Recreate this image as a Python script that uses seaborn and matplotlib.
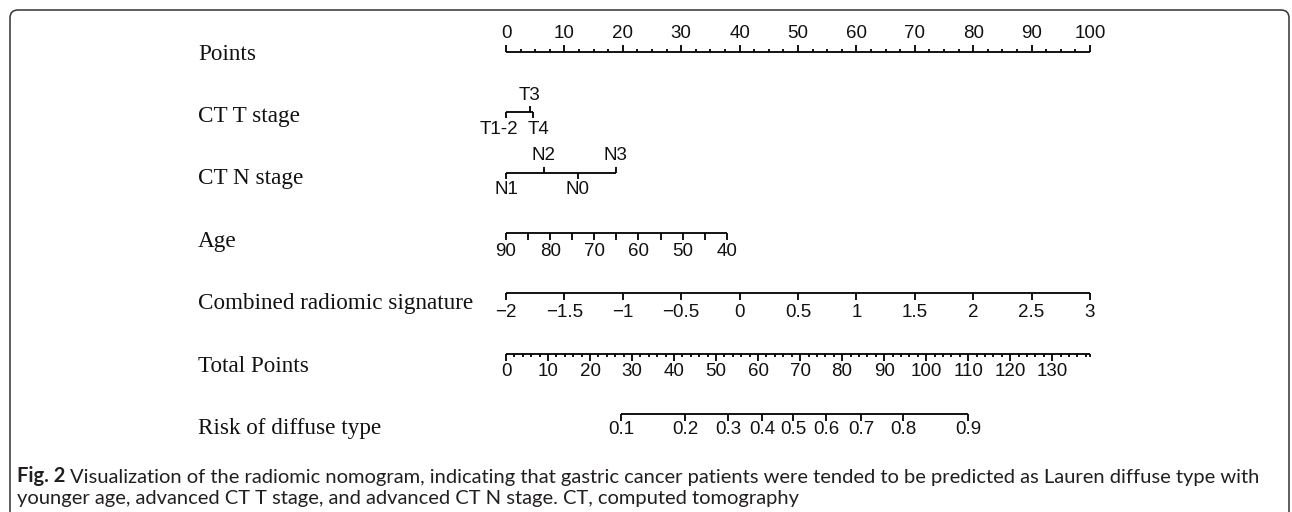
import numpy as np
import pandas as pd
import matplotlib
matplotlib.use("Agg")
import matplotlib.pyplot as plt
from matplotlib.transforms import ScaledTranslation
from matplotlib.path import Path
from matplotlib.patches import PathPatch
import seaborn as sns

# ---------------- nomogram data ----------------
row_names = ["Points", "CT T stage", "CT N stage", "Age",
             "Combined radiomic signature", "Total Points", "Risk of diffuse type"]

# Points scale
points_major = list(range(0, 101, 10))
points_minor_step = 2.5

# CT T stage: level, points, label side (-1 above, +1 below)
t_levels = ["T1-2", "T3", "T4"]
t_points = [0.0, 4.1, 4.6]
t_side = [1, -1, 1]

# CT N stage
n_levels = ["N1", "N2", "N0", "N3"]
n_points = [0.0, 6.5, 12.3, 18.8]
n_side = [1, -1, 1, -1]

# Age (years) -> points, linear between the two ends
age_range = [90, 40]
age_points_range = [0.0, 37.8]
age_ticks = [90, 85, 80, 75, 70, 65, 60, 55, 50, 45, 40]
age_labels = [90, 80, 70, 60, 50, 40]

# Combined radiomic signature -> points
sig_range = [-2.0, 3.0]
sig_points_range = [0.0, 100.0]
sig_ticks = [-2, -1.5, -1, -0.5, 0, 0.5, 1, 1.5, 2, 2.5, 3]
sig_labels = ["\u22122", "\u22121.5", "\u22121", "\u22120.5", "0", "0.5", "1",
              "1.5", "2", "2.5", "3"]

# Total points scale
total_max = 139
total_major = list(range(0, 131, 10))
total_minor_step = 2

# Risk of diffuse type at total points
risk_probs = ["0.1", "0.2", "0.3", "0.4", "0.5", "0.6", "0.7", "0.8", "0.9"]
risk_total = [27.4, 42.6, 52.9, 61.0, 68.3, 76.2, 84.5, 94.5, 110.0]

caption_bold = "Fig. 2"
caption_line1 = ("Visualization of the radiomic nomogram, indicating that gastric cancer "
                 "patients were tended to be predicted as Lauren diffuse type with")
caption_line2 = ("younger age, advanced CT T stage, and advanced CT N stage. "
                 "CT, computed tomography")

# ---------------- figure ----------------
sns.set_theme(style="white")
W, H, DPI = 1292, 512, 100
fig = plt.figure(figsize=(W / DPI, H / DPI), dpi=DPI)
fig.patch.set_facecolor("white")

serif = "Liberation Serif"
sans = "Liberation Sans"
cap_family = "Lato"

# pixel layout of the scales
x0_px, x1_px = 506, 1090
top_px, bot_px = 52, 414
n_rows = len(row_names)
row_px = (bot_px - top_px) / (n_rows - 1)

# horizontal nudges (px) for crowded category labels
label_nudge = {"T1-2": -7, "T4": 6}

ax = fig.add_axes([x0_px / W, 1 - bot_px / H, (x1_px - x0_px) / W, (bot_px - top_px) / H])

def py(px):
    """pixel length -> row units"""
    return px / row_px

def to_points_total(v):
    return np.asarray(v, dtype=float) * 100.0 / total_max

def lin(v, dom, rng):
    v = np.asarray(v, dtype=float)
    return rng[0] + (v - dom[0]) * (rng[1] - rng[0]) / (dom[1] - dom[0])

segs = []
def seg(xa, ya, xb, yb):
    sid = len(segs)
    segs.append((sid, xa, ya))
    segs.append((sid, xb, yb))

labels = []   # (x, row, dy_px, text)
MAJ, MIN, LAB = 7, 3.5, 18

# row 0: Points (ticks up, labels above)
r = 0
seg(0, r, 100, r)
for v in np.arange(0, 100 + 1e-9, points_minor_step):
    ln = MAJ if abs(v % 10) < 1e-9 else MIN
    seg(v, r, v, r - py(ln))
for v in points_major:
    labels.append((v, r, -LAB - 1, str(v)))

# rows 1-2: categorical variables
for r, pts, levs, side in [(1, t_points, t_levels, t_side), (2, n_points, n_levels, n_side)]:
    seg(min(pts), r, max(pts), r)
    for p, lv, s in zip(pts, levs, side):
        seg(p, r, p, r + s * py(MAJ - 1))
        labels.append((p, r, s * 17, lv))

# row 3: Age
r = 3
ax_pts = lin(age_ticks, age_range, age_points_range)
seg(ax_pts.min(), r, ax_pts.max(), r)
for p in ax_pts:
    seg(p, r, p, r + py(MAJ))
for v, p in zip(age_labels, lin(age_labels, age_range, age_points_range)):
    labels.append((p, r, LAB, str(v)))

# row 4: Combined radiomic signature
r = 4
sp = lin(sig_ticks, sig_range, sig_points_range)
seg(sp.min(), r, sp.max(), r)
for p, t in zip(sp, sig_labels):
    seg(p, r, p, r + py(MAJ))
    labels.append((p, r, LAB + 1, t))

# row 5: Total Points
r = 5
seg(0, r, to_points_total(total_max), r)
for v in list(np.arange(0, total_max, total_minor_step)) + [total_max]:
    ln = MAJ if v % 10 == 0 else MIN
    seg(to_points_total(v), r, to_points_total(v), r + py(ln))
for v in total_major:
    labels.append((to_points_total(v), r, LAB, str(v)))

# row 6: Risk of diffuse type
r = 6
rp = to_points_total(risk_total)
seg(rp.min(), r, rp.max(), r)
for p, t in zip(rp, risk_probs):
    seg(p, r, p, r + py(MAJ))
    labels.append((p, r, 16, t))

df = pd.DataFrame(segs, columns=["seg", "x", "y"])
sns.lineplot(data=df, x="x", y="y", units="seg", estimator=None, sort=False,
             color="black", lw=1.3, ax=ax, legend=False)
for line in ax.lines:
    line.set_clip_on(False)
    line.set_solid_capstyle("butt")
ax.set_xlim(0, 100)
ax.set_ylim(n_rows - 1, 0)
ax.axis("off")

for x, rr, dy, t in labels:
    dx = label_nudge.get(t, 0)
    tr = ax.transData + ScaledTranslation(dx / DPI, -dy / DPI, fig.dpi_scale_trans)
    ax.text(x, rr, t, transform=tr, ha="center", va="center", fontsize=13.5,
            family=sans, color="#111111", clip_on=False)

# ---------------- canvas overlay: labels, frame, caption ----------------
cv = fig.add_axes([0, 0, 1, 1], zorder=-1)
cv.set_xlim(0, W)
cv.set_ylim(H, 0)
cv.axis("off")

for i, name in enumerate(row_names):
    cv.text(198, 54 + 62.4 * i, name, ha="left", va="center", fontsize=16.7,
            family=serif, color="#111111")

# frame with rounded top corners, open at the bottom
rad = 8
verts = [(10, H + 5), (10, 10 + rad), (10, 10), (10 + rad, 10),
         (1289 - rad, 10), (1289, 10), (1289, 10 + rad), (1289, H + 5)]
codes = [Path.MOVETO, Path.LINETO, Path.CURVE3, Path.CURVE3,
         Path.LINETO, Path.CURVE3, Path.CURVE3, Path.LINETO]
cv.add_patch(PathPatch(Path(verts, codes), fill=False, lw=1.1, ec="#333333"))

cap_size = 14.5
t1 = cv.text(17, 482, caption_bold, ha="left", va="baseline", fontsize=cap_size,
             family=cap_family, weight="bold", color="#231f20")
cv.annotate(caption_line1, xy=(1, 0), xycoords=t1, xytext=(3, 0), textcoords="offset points",
            ha="left", va="bottom", fontsize=cap_size, family=cap_family, color="#231f20")
cv.text(17, 504, caption_line2, ha="left", va="baseline", fontsize=cap_size,
        family=cap_family, color="#231f20")

fig.savefig("out.png", dpi=DPI, facecolor="white")
